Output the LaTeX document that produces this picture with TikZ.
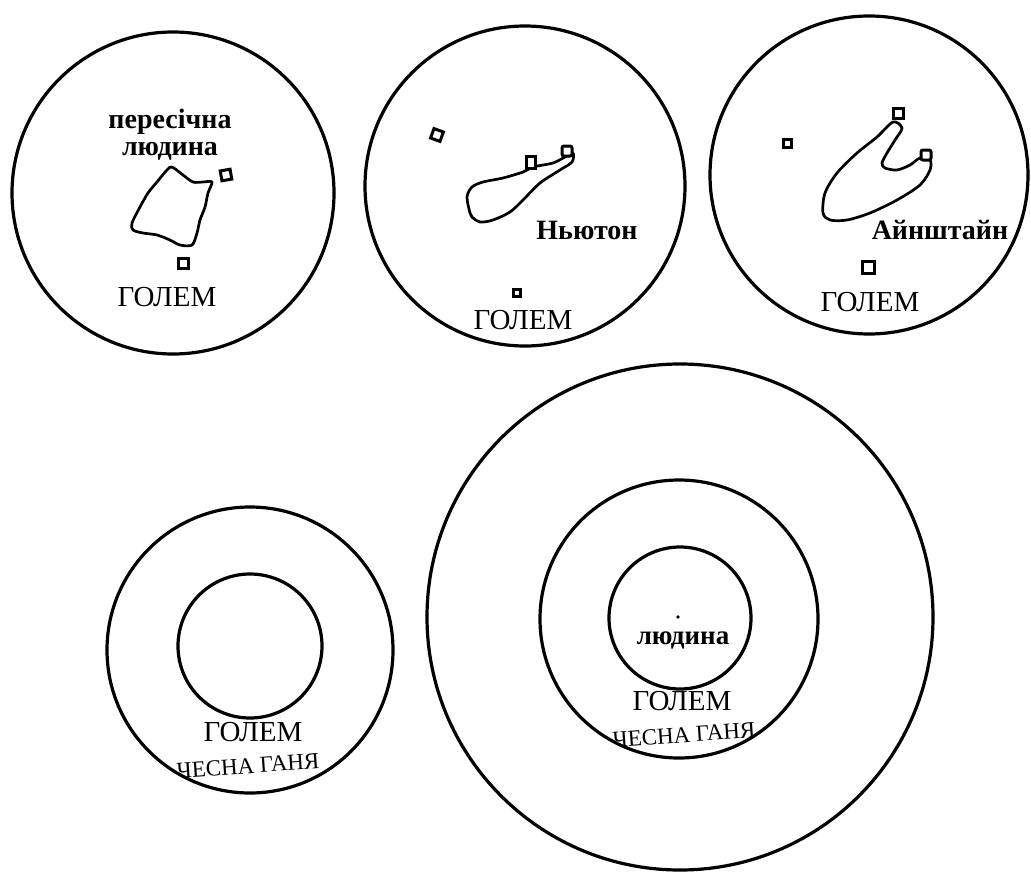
\documentclass[tikz,border=0pt]{standalone}
\usepackage{fontspec}
\setmainfont{Liberation Serif}
\begin{document}
\begin{tikzpicture}[x=1pt,y=1pt,
  ring/.style={draw, line width=3.2pt},
  sqbox/.style={draw, line width=3pt, minimum size=10pt, inner sep=0pt, outer sep=0pt},
  blobline/.style={line width=2.7pt, line join=round},
  capslab/.style={font=\fontsize{29}{30}\selectfont, inner sep=0pt},
  boldlab/.style={font=\bfseries\fontsize{28}{25}\selectfont, inner sep=0pt, align=center},
  honest/.style={font=\fontsize{23}{23}\selectfont, inner sep=0pt}
]
\useasboundingbox (0,0) rectangle (1031,-886);

% ---------- top-left ----------
\draw[ring] (173,-193) circle (161);
\node[boldlab, anchor=base] (tlmana) at (170,-128) {пересічна};
\node[boldlab, anchor=base] (tlmanb) at (170,-155) {людина};
\draw[blobline] plot[smooth cycle, tension=0.5] coordinates {
 (172,-167) (183,-175) (193,-182) (203,-182) (212,-182) (208,-193) (205,-207)
 (200,-220) (197,-233) (192,-245) (180,-245) (170,-240) (157,-235) (143,-233)
 (133,-230) (132,-223) (140,-207) (148,-193) (157,-182) (167,-170)};
\node[sqbox, rotate=10] (tlsqa) at (226,-175) {};
\node[sqbox] (tlsqb) at (183,-263) {};
\node[capslab] (tlgolem) at (167,-297) {ГОЛЕМ};

% ---------- top-middle ----------
\draw[ring] (525,-186) circle (160);
\draw[blobline] plot[smooth cycle, tension=0.5] coordinates {
 (470,-213) (467,-197) (472,-187) (483,-182) (503,-178) (523,-172) (533,-167)
 (553,-163) (565,-157) (573,-153) (572,-162) (560,-170) (540,-183) (523,-200)
 (510,-212) (493,-220) (480,-222) (472,-217)};
\node[sqbox, rotate=-20] (tmsqa) at (437,-135) {};
\node[sqbox, minimum width=9pt, minimum height=12pt, fill=white] (tmsqb) at (531,-162) {};
\node[sqbox, rounded corners=2pt, fill=white] (tmsqc) at (567,-151) {};
\node[sqbox, minimum size=7pt] (tmsqd) at (517,-293) {};
\node[boldlab] (newton) at (587,-230) {Ньютон};
\node[capslab] (tmgolem) at (523,-320) {ГОЛЕМ};

% ---------- top-right ----------
\draw[ring] (869,-175) circle (159);
\draw[blobline] plot[smooth cycle, tension=0.5] coordinates {
 (893,-122) (877,-137) (857,-153) (837,-173) (825,-193) (823,-213) (830,-220)
 (847,-220) (870,-213) (897,-200) (920,-185) (930,-170) (930,-160) (920,-158)
 (910,-165) (897,-170) (885,-168) (882,-163) (887,-153) (895,-140) (902,-128)};
\node[sqbox, minimum size=8pt] (trsqa) at (787,-143) {};
\node[sqbox, fill=white] (trsqb) at (898,-113) {};
\node[sqbox, rounded corners=2pt, fill=white] (trsqc) at (926,-155) {};
\node[sqbox, minimum size=12pt] (trsqd) at (868,-267) {};
\node[boldlab] (einstein) at (940,-230) {Айнштайн};
\node[capslab] (trgolem) at (870,-302) {ГОЛЕМ};

% ---------- bottom-left ----------
\draw[ring] (250,-650) circle (143);
\draw[ring] (250,-646) circle (72);
\node[capslab] (blgolem) at (253,-732) {ГОЛЕМ};
\node[honest, rotate=4] (blhonest) at (248,-766) {ЧЕСНА ГАНЯ};

% ---------- bottom-right ----------
\draw[ring] (680,-617) circle (253);
\draw[ring] (679,-619) circle (139);
\draw[ring] (680,-618) circle (71);
\fill (678,-617) circle (1.8);
\node[boldlab, font=\bfseries\fontsize{27}{25}\selectfont] (brman) at (683,-640) {людина};
\node[capslab] (brgolem) at (682,-701) {ГОЛЕМ};
\node[honest, rotate=4] (brhonest) at (684,-735) {ЧЕСНА ГАНЯ};
\end{tikzpicture}
\end{document}
